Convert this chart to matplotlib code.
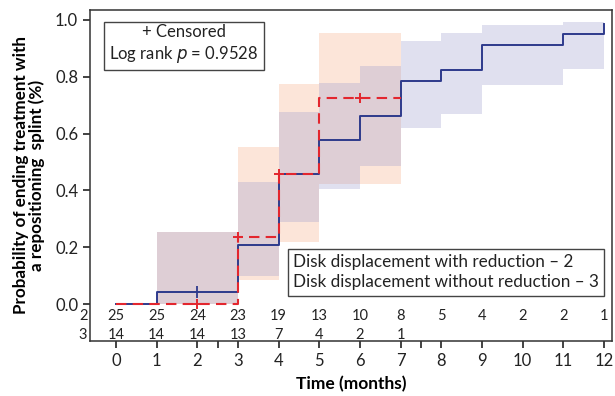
import numpy as np
import matplotlib
matplotlib.use('Agg')
import matplotlib.pyplot as plt

plt.rcParams['font.family'] = ['Lato', 'DejaVu Sans']

# group 2: disk displacement with reduction
t2 = [0, 1, 3, 4, 5, 6, 7, 8, 9, 11, 12]
s2 = [0, 0.043, 0.207, 0.456, 0.578, 0.661, 0.786, 0.823, 0.911, 0.951, 0.987]
ci_t2 = [1, 3, 4, 5, 6, 7, 8, 9, 11, 12]
lo2 = [0.0, 0.098, 0.289, 0.406, 0.484, 0.62, 0.667, 0.771, 0.827, 0.827]
hi2 = [0.255, 0.43, 0.674, 0.777, 0.839, 0.926, 0.952, 0.982, 0.993, 0.993]
cens2_t = [2]
cens2_s = [0.043]

# group 3: disk displacement without reduction
t3 = [0, 3, 4, 5, 7]
s3 = [0, 0.236, 0.456, 0.725, 0.725]
ci_t3 = [1, 3, 4, 5, 7]
lo3 = [0.0, 0.084, 0.219, 0.424, 0.424]
hi3 = [0.255, 0.552, 0.774, 0.953, 0.953]
cens3_t = [2, 3, 4, 6]
cens3_s = [0, 0.236, 0.456, 0.725]

# number at risk
risk_t2 = list(range(13))
risk2 = [25, 25, 24, 23, 19, 13, 10, 8, 5, 4, 2, 2, 1]
risk_t3 = list(range(8))
risk3 = [14, 14, 14, 13, 7, 4, 2, 1]

blue = '#2e3a8c'
red = '#e3262e'
txt = '#222222'

fig = plt.figure(figsize=(6.15, 3.96), dpi=100)
ax = fig.add_axes([0.1463, 0.139, 0.849, 0.836])

# confidence bands
ax.fill_between(ci_t3, lo3, hi3, step='post', color='#fce5d9', lw=0, zorder=1)
ax.fill_between(ci_t2, lo2, hi2, step='post', color='#9b9bcd', alpha=0.3, lw=0, zorder=2)

# survival curves
ax.step(t2, s2, where='post', color=blue, lw=1.4, zorder=3)
ax.step(t3, s3, where='post', color=red, lw=1.5, ls=(0, (5, 3)), zorder=4)
ax.plot(cens2_t, cens2_s, ls='none', marker='|', ms=8, mew=1.3, color=blue, zorder=5)
ax.plot(cens3_t, cens3_s, ls='none', marker='+', ms=7, mew=1.4, color=red, zorder=5)

# number at risk table
for t, n in zip(risk_t2, risk2):
    ax.text(t, -0.042, str(n), ha='center', va='center', fontsize=10.5, color=txt)
for t, n in zip(risk_t3, risk3):
    ax.text(t, -0.108, str(n), ha='center', va='center', fontsize=10.5, color=txt)
ax.text(-0.005, -0.042, '2', transform=ax.get_yaxis_transform(), ha='right', va='center',
        fontsize=10.5, color=txt, clip_on=False)
ax.text(-0.005, -0.108, '3', transform=ax.get_yaxis_transform(), ha='right', va='center',
        fontsize=10.5, color=txt, clip_on=False)

ax.set_xlim(-0.64, 12.2)
ax.set_ylim(-0.13, 1.035)
ax.set_xticks(range(13))
ax.set_xticks([2.5, 7.5], minor=True)
ax.set_yticks([0, 0.2, 0.4, 0.6, 0.8, 1.0])
ax.set_yticklabels(['0.0', '0.2', '0.4', '0.6', '0.8', '1.0'])
ax.tick_params(axis='both', which='both', direction='out', length=5, width=1.2,
               labelsize=12, color=txt, labelcolor=txt)
ax.tick_params(axis='x', pad=4)
for sp in ax.spines.values():
    sp.set_linewidth(1.1)
    sp.set_color('#333333')

ax.set_xlabel('Time (months)', fontsize=12.5, fontweight='bold', labelpad=5)
ax.set_ylabel('Probability of ending treatment with\na repositioning  splint (%)',
              fontsize=12.3, fontweight='bold', linespacing=1.0)
ax.yaxis.set_label_coords(-0.086, 0.5)

ax.text(0.18, 0.896, '+ Censored\nLog rank $p$ = 0.9528', transform=ax.transAxes,
        ha='center', va='center', fontsize=12, linespacing=1.25, color=txt,
        bbox=dict(boxstyle='square,pad=0.3', fc='white', ec='#444444', lw=1))
ax.text(0.389, 0.207, 'Disk displacement with reduction \u2013 2\nDisk displacement without reduction \u2013 3',
        transform=ax.transAxes, ha='left', va='center', fontsize=12.3, linespacing=1.3,
        color=txt, bbox=dict(boxstyle='square,pad=0.3', fc='white', ec='#444444', lw=1),
        zorder=6)

fig.savefig('out.png', dpi=100)
